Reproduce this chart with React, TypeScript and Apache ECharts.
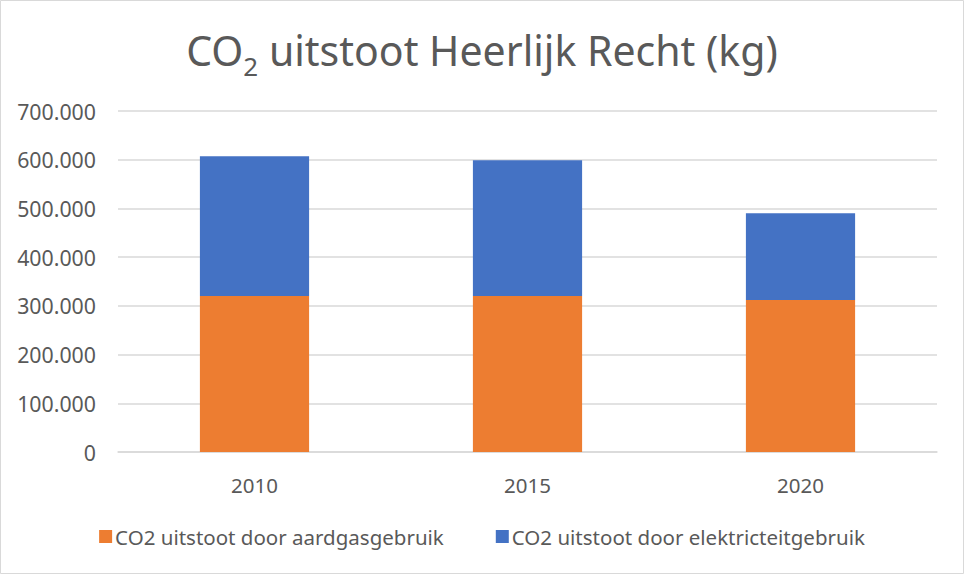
import React, { useEffect, useRef } from "react";
import * as echarts from "echarts";

const categories = ["2010", "2015", "2020"];
const gasValues = [320000, 320000, 312000];
const electricityValues = [287000, 279000, 178000];
const seriesNames = ["CO2 uitstoot door aardgasgebruik", "CO2 uitstoot door elektricteitgebruik"];

const FONT = "Noto Sans";

export default function App() {
  const ref = useRef<HTMLDivElement>(null);
  useEffect(() => {
    const chart = echarts.init(ref.current!, null, { renderer: "svg" });
    chart.setOption({
      animation: false,
      backgroundColor: "#ffffff",
      textStyle: { fontFamily: FONT },
      title: {
        text: "{a|CO}{s|2}{a| uitstoot Heerlijk Recht (kg)}",
        left: "center",
        top: 24,
        textStyle: {
          fontWeight: "normal",
          rich: {
            a: { fontSize: 41, color: "#595959", fontFamily: FONT, fontWeight: "normal", verticalAlign: "bottom" },
            s: { fontSize: 26, color: "#595959", fontFamily: FONT, fontWeight: "normal", padding: [0, 0, -9, 0], verticalAlign: "bottom" },
          },
        },
      },
      graphic: [
        {
          type: "rect",
          shape: { x: 0.5, y: 0.5, width: 963, height: 573 },
          style: { fill: "none", stroke: "#d9d9d9", lineWidth: 1 },
          silent: true,
        },
      ],
      legend: {
        bottom: 22,
        left: "center",
        itemWidth: 13,
        itemHeight: 13,
        itemGap: 52,
        icon: "rect",
        textStyle: { fontSize: 20.5, color: "#595959", fontFamily: FONT, padding: [0, 0, 0, -2] },
        data: seriesNames,
      },
      grid: { left: 118, right: 27, top: 111, bottom: 122 },
      xAxis: {
        type: "category",
        data: categories,
        axisTick: { show: false },
        axisLine: { lineStyle: { color: "#d9d9d9", width: 1.5 } },
        axisLabel: { fontSize: 20.5, color: "#595959", margin: 22, fontFamily: FONT },
      },
      yAxis: {
        type: "value",
        min: 0,
        max: 700000,
        interval: 100000,
        axisLine: { show: false },
        axisTick: { show: false },
        splitLine: { lineStyle: { color: "#d9d9d9", width: 1.5 } },
        axisLabel: {
          fontSize: 21.3,
          color: "#595959",
          margin: 22,
          fontFamily: FONT,
          formatter: (v: number) => (v === 0 ? "0" : (v / 1000).toFixed(0) + ".000"),
        },
      },
      series: [
        {
          name: seriesNames[0],
          type: "bar",
          stack: "total",
          data: gasValues,
          barWidth: "40%",
          itemStyle: { color: "#ed7d31" },
        },
        {
          name: seriesNames[1],
          type: "bar",
          stack: "total",
          data: electricityValues,
          barWidth: "40%",
          itemStyle: { color: "#4472c4" },
        },
      ],
    });
    return () => chart.dispose();
  }, []);
  return (
    <div
      ref={ref}
      style={{ position: "absolute", left: 0, top: 0, width: 964, height: 574 }}
    />
  );
}
